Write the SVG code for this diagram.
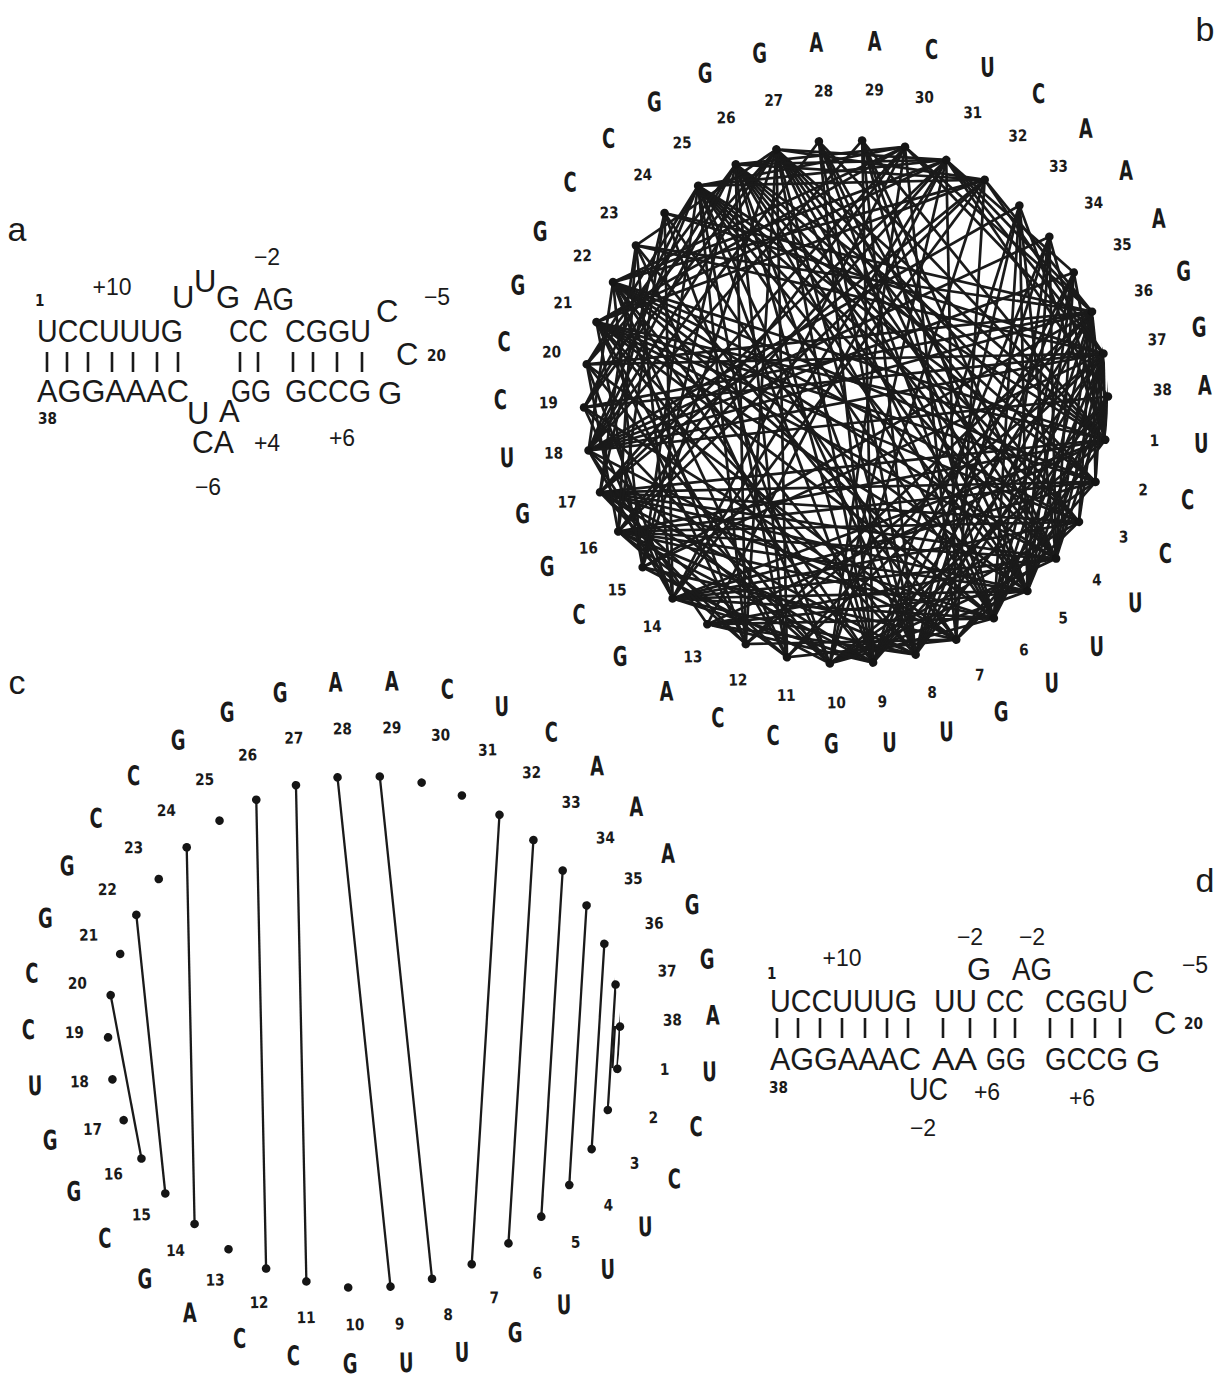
<svg xmlns="http://www.w3.org/2000/svg" width="1226" height="1383" viewBox="0 0 1226 1383">
<style>
.pl{font-family:"Liberation Sans",Arial,sans-serif;font-size:34px;fill:#1a1a1a;text-anchor:middle}
.sq{font-family:"Liberation Sans",Arial,sans-serif;font-size:31px;fill:#1a1a1a}
.an{font-family:"Liberation Sans",Arial,sans-serif;font-size:23px;fill:#1a1a1a;text-anchor:middle}
.n{font-family:"DejaVu Sans","Liberation Sans",sans-serif;font-weight:bold;font-size:16px;fill:#1a1a1a}
.l{font-family:"DejaVu Sans","Liberation Sans",sans-serif;font-weight:bold;font-size:27px;fill:#1a1a1a}
.bar{stroke:#1a1a1a;stroke-width:2.6;fill:none}
.chB{stroke:#1a1a1a;stroke-width:2.7;fill:none}
.chC{stroke:#1a1a1a;stroke-width:2.3;fill:none}
.dt{fill:#151515}
</style>
<defs>
<circle id="dot" r="4.3"/>
<clipPath id="clipB"><circle r="262"/></clipPath>
<clipPath id="clipC"><circle r="256"/></clipPath>
<line id="r4" x2="600" transform="rotate(108.947)"/>
<line id="r5" x2="600" transform="rotate(113.684)"/>
<line id="r6" x2="600" transform="rotate(118.421)"/>
<line id="r7" x2="600" transform="rotate(123.158)"/>
<line id="r8" x2="600" transform="rotate(127.895)"/>
<line id="r9" x2="600" transform="rotate(132.632)"/>
<line id="r10" x2="600" transform="rotate(137.368)"/>
<line id="r11" x2="600" transform="rotate(142.105)"/>
<line id="r12" x2="600" transform="rotate(146.842)"/>
<line id="r13" x2="600" transform="rotate(151.579)"/>
<line id="r14" x2="600" transform="rotate(156.316)"/>
<line id="r15" x2="600" transform="rotate(161.053)"/>
<line id="r16" x2="600" transform="rotate(165.789)"/>
<line id="r17" x2="600" transform="rotate(170.526)"/>
<line id="r18" x2="600" transform="rotate(175.263)"/>
<line id="r19" x2="600" transform="rotate(180)"/>
<line id="r20" x2="600" transform="rotate(184.737)"/>
<line id="r21" x2="600" transform="rotate(189.474)"/>
<line id="r22" x2="600" transform="rotate(194.211)"/>
<line id="r23" x2="600" transform="rotate(198.947)"/>
<line id="r24" x2="600" transform="rotate(203.684)"/>
<line id="r25" x2="600" transform="rotate(208.421)"/>
<line id="r26" x2="600" transform="rotate(213.158)"/>
<line id="r27" x2="600" transform="rotate(217.895)"/>
<line id="r28" x2="600" transform="rotate(222.632)"/>
<line id="r29" x2="600" transform="rotate(227.368)"/>
<line id="r30" x2="600" transform="rotate(232.105)"/>
<line id="r31" x2="600" transform="rotate(236.842)"/>
<line id="r32" x2="600" transform="rotate(241.579)"/>
<line id="r33" x2="600" transform="rotate(246.316)"/>
<line id="r34" x2="600" transform="rotate(251.053)"/>
<line id="r35" x2="600" transform="rotate(255.789)"/>
<line id="r36" x2="600" transform="rotate(260.526)"/>
<line id="r37" x2="600" transform="rotate(265.263)"/>
</defs>
<rect width="1226" height="1383" fill="#ffffff"/>

<!-- panel labels -->
<g id="panel-labels">
<text class="pl" x="17" y="241">a</text>
<text class="pl" x="1205" y="41">b</text>
<text class="pl" x="17" y="694">c</text>
<text class="pl" x="1205" y="892">d</text>
</g>

<!-- panel a -->
<g id="panel-a">
<text class="n" x="35" y="306" transform="translate(35 306) scale(.85 1) translate(-35 -306)">1</text>
<text class="an" x="112" y="295">+10</text>
<text class="sq" x="172" y="308">U</text>
<text class="sq" x="194" y="292">U</text>
<text class="sq" x="216" y="308">G</text>
<text class="an" x="267" y="265">−2</text>
<text class="sq" x="254" y="310" textLength="40" lengthAdjust="spacingAndGlyphs">AG</text>
<text class="an" x="437" y="305">−5</text>
<text class="sq" x="376" y="322">C</text>
<text class="sq" x="37" y="342" textLength="146" lengthAdjust="spacingAndGlyphs">UCCUUUG</text>
<text class="sq" x="229" y="342" textLength="39" lengthAdjust="spacingAndGlyphs">CC</text>
<text class="sq" x="285" y="342" textLength="86" lengthAdjust="spacingAndGlyphs">CGGU</text>
<path class="bar" d="M47 352v20M67 352v20M88 352v20M112 352v20M133 352v20M157 352v20M178 352v20M240 352v20M258 352v20M293 352v20M313 352v20M337 352v20M362 352v20"/>
<text class="sq" x="396" y="365">C</text>
<text class="n" x="427" y="361" transform="translate(427 361) scale(.85 1) translate(-427 -361)">20</text>
<text class="sq" x="37" y="402" textLength="152" lengthAdjust="spacingAndGlyphs">AGGAAAC</text>
<text class="sq" x="231" y="402" textLength="40" lengthAdjust="spacingAndGlyphs">GG</text>
<text class="sq" x="285" y="402" textLength="86" lengthAdjust="spacingAndGlyphs">GCCG</text>
<text class="sq" x="378" y="404">G</text>
<text class="n" x="38" y="424" transform="translate(38 424) scale(.85 1) translate(-38 -424)">38</text>
<text class="sq" x="187" y="424">U</text>
<text class="sq" x="219" y="422">A</text>
<text class="sq" x="192" y="453" textLength="42" lengthAdjust="spacingAndGlyphs">CA</text>
<text class="an" x="267" y="451">+4</text>
<text class="an" x="342" y="446">+6</text>
<text class="an" x="208" y="495">−6</text>
</g>

<!-- panel d -->
<g id="panel-d">
<text class="an" x="970" y="945">−2</text>
<text class="an" x="1032" y="945">−2</text>
<text class="an" x="842" y="966">+10</text>
<text class="n" x="767" y="979" transform="translate(767 979) scale(.85 1) translate(-767 -979)">1</text>
<text class="sq" x="967" y="980">G</text>
<text class="sq" x="1012" y="980" textLength="40" lengthAdjust="spacingAndGlyphs">AG</text>
<text class="sq" x="1132" y="993">C</text>
<text class="an" x="1195" y="973">−5</text>
<text class="sq" x="770" y="1012" textLength="147" lengthAdjust="spacingAndGlyphs">UCCUUUG</text>
<text class="sq" x="934" y="1012" textLength="43" lengthAdjust="spacingAndGlyphs">UU</text>
<text class="sq" x="986" y="1012" textLength="38" lengthAdjust="spacingAndGlyphs">CC</text>
<text class="sq" x="1045" y="1012" textLength="83" lengthAdjust="spacingAndGlyphs">CGGU</text>
<path class="bar" d="M777 1018v20M798 1018v20M820 1018v20M842 1018v20M865 1018v20M887 1018v20M908 1018v20M943 1018v20M970 1018v20M995 1018v20M1015 1018v20M1050 1018v20M1072 1018v20M1095 1018v20M1120 1018v20"/>
<text class="sq" x="1154" y="1034">C</text>
<text class="n" x="1184" y="1029" transform="translate(1184 1029) scale(.85 1) translate(-1184 -1029)">20</text>
<text class="sq" x="770" y="1070" textLength="151" lengthAdjust="spacingAndGlyphs">AGGAAAC</text>
<text class="sq" x="932" y="1070" textLength="45" lengthAdjust="spacingAndGlyphs">AA</text>
<text class="sq" x="986" y="1070" textLength="40" lengthAdjust="spacingAndGlyphs">GG</text>
<text class="sq" x="1045" y="1070" textLength="83" lengthAdjust="spacingAndGlyphs">GCCG</text>
<text class="sq" x="1136" y="1072">G</text>
<text class="n" x="769" y="1093" transform="translate(769 1093) scale(.85 1) translate(-769 -1093)">38</text>
<text class="sq" x="909" y="1100" textLength="39" lengthAdjust="spacingAndGlyphs">UC</text>
<text class="an" x="987" y="1100">+6</text>
<text class="an" x="1082" y="1106">+6</text>
<text class="an" x="923" y="1136">−2</text>
</g>

<!-- panel b -->
<g id="panel-b" transform="translate(846 402) rotate(-1.2)">
<g id="connectors-b" class="chB" clip-path="url(#clipB)">
<g transform="rotate(9.474) translate(262 0)"><use href="#r6"/><use href="#r9"/><use href="#r12"/><use href="#r13"/><use href="#r15"/><use href="#r16"/><use href="#r20"/><use href="#r21"/><use href="#r24"/><use href="#r25"/><use href="#r26"/><use href="#r27"/><use href="#r28"/><use href="#r32"/><use href="#r33"/><use href="#r34"/><use href="#r35"/><use href="#r36"/><use href="#r37"/></g>
<g transform="rotate(18.947) translate(262 0)"><use href="#r5"/><use href="#r8"/><use href="#r12"/><use href="#r14"/><use href="#r15"/><use href="#r19"/><use href="#r20"/><use href="#r23"/><use href="#r24"/><use href="#r25"/><use href="#r34"/><use href="#r35"/></g>
<g transform="rotate(28.421) translate(262 0)"><use href="#r4"/><use href="#r7"/><use href="#r11"/><use href="#r13"/><use href="#r14"/><use href="#r18"/><use href="#r19"/><use href="#r22"/><use href="#r23"/><use href="#r24"/><use href="#r33"/><use href="#r34"/></g>
<g transform="rotate(37.895) translate(262 0)"><use href="#r6"/><use href="#r9"/><use href="#r10"/><use href="#r12"/><use href="#r13"/><use href="#r17"/><use href="#r18"/><use href="#r21"/><use href="#r22"/><use href="#r23"/><use href="#r24"/><use href="#r25"/><use href="#r29"/><use href="#r30"/><use href="#r31"/><use href="#r32"/><use href="#r33"/><use href="#r34"/></g>
<g transform="rotate(47.368) translate(262 0)"><use href="#r5"/><use href="#r8"/><use href="#r9"/><use href="#r11"/><use href="#r12"/><use href="#r16"/><use href="#r17"/><use href="#r20"/><use href="#r21"/><use href="#r22"/><use href="#r23"/><use href="#r24"/><use href="#r28"/><use href="#r29"/><use href="#r30"/><use href="#r31"/><use href="#r32"/><use href="#r33"/></g>
<g transform="rotate(56.842) translate(262 0)"><use href="#r4"/><use href="#r7"/><use href="#r8"/><use href="#r10"/><use href="#r11"/><use href="#r15"/><use href="#r16"/><use href="#r19"/><use href="#r20"/><use href="#r21"/><use href="#r22"/><use href="#r23"/><use href="#r27"/><use href="#r28"/><use href="#r29"/><use href="#r30"/><use href="#r31"/><use href="#r32"/></g>
<g transform="rotate(66.316) translate(262 0)"><use href="#r4"/><use href="#r5"/><use href="#r8"/><use href="#r11"/><use href="#r12"/><use href="#r13"/><use href="#r16"/><use href="#r17"/><use href="#r23"/><use href="#r24"/><use href="#r25"/></g>
<g transform="rotate(75.789) translate(262 0)"><use href="#r5"/><use href="#r6"/><use href="#r8"/><use href="#r9"/><use href="#r13"/><use href="#r14"/><use href="#r17"/><use href="#r18"/><use href="#r19"/><use href="#r20"/><use href="#r21"/><use href="#r25"/><use href="#r26"/><use href="#r27"/><use href="#r28"/><use href="#r29"/><use href="#r30"/></g>
<g transform="rotate(85.263) translate(262 0)"><use href="#r4"/><use href="#r5"/><use href="#r7"/><use href="#r8"/><use href="#r12"/><use href="#r13"/><use href="#r16"/><use href="#r17"/><use href="#r18"/><use href="#r19"/><use href="#r20"/><use href="#r24"/><use href="#r25"/><use href="#r26"/><use href="#r27"/><use href="#r28"/><use href="#r29"/></g>
<g transform="rotate(94.737) translate(262 0)"><use href="#r5"/><use href="#r8"/><use href="#r9"/><use href="#r10"/><use href="#r13"/><use href="#r14"/><use href="#r20"/><use href="#r21"/><use href="#r22"/></g>
<g transform="rotate(104.211) translate(262 0)"><use href="#r5"/><use href="#r6"/><use href="#r10"/><use href="#r11"/><use href="#r14"/><use href="#r15"/><use href="#r16"/><use href="#r25"/><use href="#r26"/></g>
<g transform="rotate(113.684) translate(262 0)"><use href="#r4"/><use href="#r5"/><use href="#r9"/><use href="#r10"/><use href="#r13"/><use href="#r14"/><use href="#r15"/><use href="#r24"/><use href="#r25"/></g>
<g transform="rotate(123.158) translate(262 0)"><use href="#r5"/><use href="#r18"/></g>
<g transform="rotate(132.632) translate(262 0)"><use href="#r4"/><use href="#r5"/><use href="#r6"/><use href="#r9"/><use href="#r10"/><use href="#r16"/><use href="#r17"/><use href="#r18"/></g>
<g transform="rotate(142.105) translate(262 0)"><use href="#r6"/><use href="#r7"/><use href="#r10"/><use href="#r11"/><use href="#r12"/><use href="#r21"/><use href="#r22"/></g>
<g transform="rotate(151.579) translate(262 0)"><use href="#r4"/><use href="#r7"/><use href="#r8"/><use href="#r14"/><use href="#r15"/><use href="#r16"/></g>
<g transform="rotate(161.053) translate(262 0)"><use href="#r6"/><use href="#r7"/><use href="#r13"/><use href="#r14"/><use href="#r15"/></g>
<g transform="rotate(170.526) translate(262 0)"><use href="#r4"/><use href="#r7"/><use href="#r8"/><use href="#r9"/><use href="#r10"/><use href="#r11"/><use href="#r15"/><use href="#r16"/><use href="#r17"/><use href="#r18"/><use href="#r19"/><use href="#r20"/></g>
<g transform="rotate(180) translate(262 0)"><use href="#r6"/><use href="#r7"/><use href="#r8"/><use href="#r17"/><use href="#r18"/></g>
<g transform="rotate(189.474) translate(262 0)"><use href="#r5"/><use href="#r6"/><use href="#r7"/><use href="#r16"/><use href="#r17"/></g>
<g transform="rotate(198.947) translate(262 0)"><use href="#r9"/><use href="#r10"/><use href="#r11"/></g>
<g transform="rotate(208.421) translate(262 0)"><use href="#r8"/><use href="#r9"/><use href="#r10"/></g>
<g transform="rotate(217.895) translate(262 0)"><use href="#r4"/><use href="#r13"/><use href="#r14"/></g>
<g transform="rotate(227.368) translate(262 0)"><use href="#r12"/><use href="#r13"/></g>
<g transform="rotate(236.842) translate(262 0)"><use href="#r5"/><use href="#r6"/><use href="#r7"/></g>
<g transform="rotate(246.316) translate(262 0)"><use href="#r4"/><use href="#r5"/><use href="#r6"/></g>
<g transform="rotate(255.789) translate(262 0)"><use href="#r4"/><use href="#r5"/></g>
<g transform="rotate(284.211) translate(262 0)"><use href="#r6"/><use href="#r7"/></g>
<g transform="rotate(293.684) translate(262 0)"><use href="#r4"/><use href="#r5"/><use href="#r6"/><use href="#r7"/></g>
<g transform="rotate(303.158) translate(262 0)"><use href="#r4"/><use href="#r5"/></g>
</g>
<g id="b1" transform="rotate(9.474)"><use class="dt" href="#dot" x="262"/><text class="n" transform="translate(307 0) rotate(-9.474) scale(.85 1)">1</text><text class="l" transform="translate(352 0) rotate(-9.474) scale(.66 1)">U</text></g>
<g id="b2" transform="rotate(18.947)"><use class="dt" href="#dot" x="262"/><text class="n" transform="translate(307 0) rotate(-18.947) scale(.85 1)">2</text><text class="l" transform="translate(352 0) rotate(-18.947) scale(.66 1)">C</text></g>
<g id="b3" transform="rotate(28.421)"><use class="dt" href="#dot" x="262"/><text class="n" transform="translate(307 0) rotate(-28.421) scale(.85 1)">3</text><text class="l" transform="translate(352 0) rotate(-28.421) scale(.66 1)">C</text></g>
<g id="b4" transform="rotate(37.895)"><use class="dt" href="#dot" x="262"/><text class="n" transform="translate(307 0) rotate(-37.895) scale(.85 1)">4</text><text class="l" transform="translate(352 0) rotate(-37.895) scale(.66 1)">U</text></g>
<g id="b5" transform="rotate(47.368)"><use class="dt" href="#dot" x="262"/><text class="n" transform="translate(307 0) rotate(-47.368) scale(.85 1)">5</text><text class="l" transform="translate(352 0) rotate(-47.368) scale(.66 1)">U</text></g>
<g id="b6" transform="rotate(56.842)"><use class="dt" href="#dot" x="262"/><text class="n" transform="translate(307 0) rotate(-56.842) scale(.85 1)">6</text><text class="l" transform="translate(352 0) rotate(-56.842) scale(.66 1)">U</text></g>
<g id="b7" transform="rotate(66.316)"><use class="dt" href="#dot" x="262"/><text class="n" transform="translate(307 0) rotate(-66.316) scale(.85 1)">7</text><text class="l" transform="translate(352 0) rotate(-66.316) scale(.66 1)">G</text></g>
<g id="b8" transform="rotate(75.789)"><use class="dt" href="#dot" x="262"/><text class="n" transform="translate(307 0) rotate(-75.789) scale(.85 1)">8</text><text class="l" transform="translate(352 0) rotate(-75.789) scale(.66 1)">U</text></g>
<g id="b9" transform="rotate(85.263)"><use class="dt" href="#dot" x="262"/><text class="n" transform="translate(307 0) rotate(-85.263) scale(.85 1)">9</text><text class="l" transform="translate(352 0) rotate(-85.263) scale(.66 1)">U</text></g>
<g id="b10" transform="rotate(94.737)"><use class="dt" href="#dot" x="262"/><text class="n" transform="translate(307 0) rotate(-94.737) scale(.85 1)">10</text><text class="l" transform="translate(352 0) rotate(-94.737) scale(.66 1)">G</text></g>
<g id="b11" transform="rotate(104.211)"><use class="dt" href="#dot" x="262"/><text class="n" transform="translate(307 0) rotate(-104.211) scale(.85 1)">11</text><text class="l" transform="translate(352 0) rotate(-104.211) scale(.66 1)">C</text></g>
<g id="b12" transform="rotate(113.684)"><use class="dt" href="#dot" x="262"/><text class="n" transform="translate(307 0) rotate(-113.684) scale(.85 1)">12</text><text class="l" transform="translate(352 0) rotate(-113.684) scale(.66 1)">C</text></g>
<g id="b13" transform="rotate(123.158)"><use class="dt" href="#dot" x="262"/><text class="n" transform="translate(307 0) rotate(-123.158) scale(.85 1)">13</text><text class="l" transform="translate(352 0) rotate(-123.158) scale(.66 1)">A</text></g>
<g id="b14" transform="rotate(132.632)"><use class="dt" href="#dot" x="262"/><text class="n" transform="translate(307 0) rotate(-132.632) scale(.85 1)">14</text><text class="l" transform="translate(352 0) rotate(-132.632) scale(.66 1)">G</text></g>
<g id="b15" transform="rotate(142.105)"><use class="dt" href="#dot" x="262"/><text class="n" transform="translate(307 0) rotate(-142.105) scale(.85 1)">15</text><text class="l" transform="translate(352 0) rotate(-142.105) scale(.66 1)">C</text></g>
<g id="b16" transform="rotate(151.579)"><use class="dt" href="#dot" x="262"/><text class="n" transform="translate(307 0) rotate(-151.579) scale(.85 1)">16</text><text class="l" transform="translate(352 0) rotate(-151.579) scale(.66 1)">G</text></g>
<g id="b17" transform="rotate(161.053)"><use class="dt" href="#dot" x="262"/><text class="n" transform="translate(307 0) rotate(-161.053) scale(.85 1)">17</text><text class="l" transform="translate(352 0) rotate(-161.053) scale(.66 1)">G</text></g>
<g id="b18" transform="rotate(170.526)"><use class="dt" href="#dot" x="262"/><text class="n" transform="translate(307 0) rotate(-170.526) scale(.85 1)">18</text><text class="l" transform="translate(352 0) rotate(-170.526) scale(.66 1)">U</text></g>
<g id="b19" transform="rotate(180)"><use class="dt" href="#dot" x="262"/><text class="n" transform="translate(307 0) rotate(-180) scale(.85 1)">19</text><text class="l" transform="translate(352 0) rotate(-180) scale(.66 1)">C</text></g>
<g id="b20" transform="rotate(189.474)"><use class="dt" href="#dot" x="262"/><text class="n" transform="translate(307 0) rotate(-189.474) scale(.85 1)">20</text><text class="l" transform="translate(352 0) rotate(-189.474) scale(.66 1)">C</text></g>
<g id="b21" transform="rotate(198.947)"><use class="dt" href="#dot" x="262"/><text class="n" transform="translate(307 0) rotate(-198.947) scale(.85 1)">21</text><text class="l" transform="translate(352 0) rotate(-198.947) scale(.66 1)">G</text></g>
<g id="b22" transform="rotate(208.421)"><use class="dt" href="#dot" x="262"/><text class="n" transform="translate(307 0) rotate(-208.421) scale(.85 1)">22</text><text class="l" transform="translate(352 0) rotate(-208.421) scale(.66 1)">G</text></g>
<g id="b23" transform="rotate(217.895)"><use class="dt" href="#dot" x="262"/><text class="n" transform="translate(307 0) rotate(-217.895) scale(.85 1)">23</text><text class="l" transform="translate(352 0) rotate(-217.895) scale(.66 1)">C</text></g>
<g id="b24" transform="rotate(227.368)"><use class="dt" href="#dot" x="262"/><text class="n" transform="translate(307 0) rotate(-227.368) scale(.85 1)">24</text><text class="l" transform="translate(352 0) rotate(-227.368) scale(.66 1)">C</text></g>
<g id="b25" transform="rotate(236.842)"><use class="dt" href="#dot" x="262"/><text class="n" transform="translate(307 0) rotate(-236.842) scale(.85 1)">25</text><text class="l" transform="translate(352 0) rotate(-236.842) scale(.66 1)">G</text></g>
<g id="b26" transform="rotate(246.316)"><use class="dt" href="#dot" x="262"/><text class="n" transform="translate(307 0) rotate(-246.316) scale(.85 1)">26</text><text class="l" transform="translate(352 0) rotate(-246.316) scale(.66 1)">G</text></g>
<g id="b27" transform="rotate(255.789)"><use class="dt" href="#dot" x="262"/><text class="n" transform="translate(307 0) rotate(-255.789) scale(.85 1)">27</text><text class="l" transform="translate(352 0) rotate(-255.789) scale(.66 1)">G</text></g>
<g id="b28" transform="rotate(265.263)"><use class="dt" href="#dot" x="262"/><text class="n" transform="translate(307 0) rotate(-265.263) scale(.85 1)">28</text><text class="l" transform="translate(352 0) rotate(-265.263) scale(.66 1)">A</text></g>
<g id="b29" transform="rotate(274.737)"><use class="dt" href="#dot" x="262"/><text class="n" transform="translate(307 0) rotate(-274.737) scale(.85 1)">29</text><text class="l" transform="translate(352 0) rotate(-274.737) scale(.66 1)">A</text></g>
<g id="b30" transform="rotate(284.211)"><use class="dt" href="#dot" x="262"/><text class="n" transform="translate(307 0) rotate(-284.211) scale(.85 1)">30</text><text class="l" transform="translate(352 0) rotate(-284.211) scale(.66 1)">C</text></g>
<g id="b31" transform="rotate(293.684)"><use class="dt" href="#dot" x="262"/><text class="n" transform="translate(307 0) rotate(-293.684) scale(.85 1)">31</text><text class="l" transform="translate(352 0) rotate(-293.684) scale(.66 1)">U</text></g>
<g id="b32" transform="rotate(303.158)"><use class="dt" href="#dot" x="262"/><text class="n" transform="translate(307 0) rotate(-303.158) scale(.85 1)">32</text><text class="l" transform="translate(352 0) rotate(-303.158) scale(.66 1)">C</text></g>
<g id="b33" transform="rotate(312.632)"><use class="dt" href="#dot" x="262"/><text class="n" transform="translate(307 0) rotate(-312.632) scale(.85 1)">33</text><text class="l" transform="translate(352 0) rotate(-312.632) scale(.66 1)">A</text></g>
<g id="b34" transform="rotate(322.105)"><use class="dt" href="#dot" x="262"/><text class="n" transform="translate(307 0) rotate(-322.105) scale(.85 1)">34</text><text class="l" transform="translate(352 0) rotate(-322.105) scale(.66 1)">A</text></g>
<g id="b35" transform="rotate(331.579)"><use class="dt" href="#dot" x="262"/><text class="n" transform="translate(307 0) rotate(-331.579) scale(.85 1)">35</text><text class="l" transform="translate(352 0) rotate(-331.579) scale(.66 1)">A</text></g>
<g id="b36" transform="rotate(341.053)"><use class="dt" href="#dot" x="262"/><text class="n" transform="translate(307 0) rotate(-341.053) scale(.85 1)">36</text><text class="l" transform="translate(352 0) rotate(-341.053) scale(.66 1)">G</text></g>
<g id="b37" transform="rotate(350.526)"><use class="dt" href="#dot" x="262"/><text class="n" transform="translate(307 0) rotate(-350.526) scale(.85 1)">37</text><text class="l" transform="translate(352 0) rotate(-350.526) scale(.66 1)">G</text></g>
<g id="b38" transform="rotate(0)"><use class="dt" href="#dot" x="262"/><text class="n" transform="translate(307 0) scale(.85 1)">38</text><text class="l" transform="translate(352 0) scale(.66 1)">A</text></g>
</g>

<!-- panel c -->
<g id="panel-c" transform="translate(364 1032) rotate(-1.2)">
<g id="connectors-c" class="chC" clip-path="url(#clipC)">
<g transform="rotate(9.474) translate(256 0)"><use href="#r37"/><line x1="-5" y1="0" x2="-8.5" y2="-42.1"/></g>
<g transform="rotate(18.947) translate(256 0)"><use href="#r35"/></g>
<g transform="rotate(28.421) translate(256 0)"><use href="#r33"/></g>
<g transform="rotate(37.895) translate(256 0)"><use href="#r31"/></g>
<g transform="rotate(47.368) translate(256 0)"><use href="#r29"/></g>
<g transform="rotate(56.842) translate(256 0)"><use href="#r27"/></g>
<g transform="rotate(66.316) translate(256 0)"><use href="#r25"/></g>
<g transform="rotate(75.789) translate(256 0)"><use href="#r21"/></g>
<g transform="rotate(85.263) translate(256 0)"><use href="#r19"/></g>
<g transform="rotate(104.211) translate(256 0)"><use href="#r16"/></g>
<g transform="rotate(113.684) translate(256 0)"><use href="#r14"/></g>
<g transform="rotate(132.632) translate(256 0)"><use href="#r10"/></g>
<g transform="rotate(142.105) translate(256 0)"><use href="#r7"/></g>
<g transform="rotate(151.579) translate(256 0)"><use href="#r4"/></g>
</g>
<g id="c1" transform="rotate(9.474)"><use class="dt" href="#dot" x="256"/><text class="n" transform="translate(299 0) rotate(-9.474) scale(.85 1)">1</text><text class="l" transform="translate(342 0) rotate(-9.474) scale(.66 1)">U</text></g>
<g id="c2" transform="rotate(18.947)"><use class="dt" href="#dot" x="256"/><text class="n" transform="translate(299 0) rotate(-18.947) scale(.85 1)">2</text><text class="l" transform="translate(342 0) rotate(-18.947) scale(.66 1)">C</text></g>
<g id="c3" transform="rotate(28.421)"><use class="dt" href="#dot" x="256"/><text class="n" transform="translate(299 0) rotate(-28.421) scale(.85 1)">3</text><text class="l" transform="translate(342 0) rotate(-28.421) scale(.66 1)">C</text></g>
<g id="c4" transform="rotate(37.895)"><use class="dt" href="#dot" x="256"/><text class="n" transform="translate(299 0) rotate(-37.895) scale(.85 1)">4</text><text class="l" transform="translate(342 0) rotate(-37.895) scale(.66 1)">U</text></g>
<g id="c5" transform="rotate(47.368)"><use class="dt" href="#dot" x="256"/><text class="n" transform="translate(299 0) rotate(-47.368) scale(.85 1)">5</text><text class="l" transform="translate(342 0) rotate(-47.368) scale(.66 1)">U</text></g>
<g id="c6" transform="rotate(56.842)"><use class="dt" href="#dot" x="256"/><text class="n" transform="translate(299 0) rotate(-56.842) scale(.85 1)">6</text><text class="l" transform="translate(342 0) rotate(-56.842) scale(.66 1)">U</text></g>
<g id="c7" transform="rotate(66.316)"><use class="dt" href="#dot" x="256"/><text class="n" transform="translate(299 0) rotate(-66.316) scale(.85 1)">7</text><text class="l" transform="translate(342 0) rotate(-66.316) scale(.66 1)">G</text></g>
<g id="c8" transform="rotate(75.789)"><use class="dt" href="#dot" x="256"/><text class="n" transform="translate(299 0) rotate(-75.789) scale(.85 1)">8</text><text class="l" transform="translate(342 0) rotate(-75.789) scale(.66 1)">U</text></g>
<g id="c9" transform="rotate(85.263)"><use class="dt" href="#dot" x="256"/><text class="n" transform="translate(299 0) rotate(-85.263) scale(.85 1)">9</text><text class="l" transform="translate(342 0) rotate(-85.263) scale(.66 1)">U</text></g>
<g id="c10" transform="rotate(94.737)"><use class="dt" href="#dot" x="256"/><text class="n" transform="translate(299 0) rotate(-94.737) scale(.85 1)">10</text><text class="l" transform="translate(342 0) rotate(-94.737) scale(.66 1)">G</text></g>
<g id="c11" transform="rotate(104.211)"><use class="dt" href="#dot" x="256"/><text class="n" transform="translate(299 0) rotate(-104.211) scale(.85 1)">11</text><text class="l" transform="translate(342 0) rotate(-104.211) scale(.66 1)">C</text></g>
<g id="c12" transform="rotate(113.684)"><use class="dt" href="#dot" x="256"/><text class="n" transform="translate(299 0) rotate(-113.684) scale(.85 1)">12</text><text class="l" transform="translate(342 0) rotate(-113.684) scale(.66 1)">C</text></g>
<g id="c13" transform="rotate(123.158)"><use class="dt" href="#dot" x="256"/><text class="n" transform="translate(299 0) rotate(-123.158) scale(.85 1)">13</text><text class="l" transform="translate(342 0) rotate(-123.158) scale(.66 1)">A</text></g>
<g id="c14" transform="rotate(132.632)"><use class="dt" href="#dot" x="256"/><text class="n" transform="translate(299 0) rotate(-132.632) scale(.85 1)">14</text><text class="l" transform="translate(342 0) rotate(-132.632) scale(.66 1)">G</text></g>
<g id="c15" transform="rotate(142.105)"><use class="dt" href="#dot" x="256"/><text class="n" transform="translate(299 0) rotate(-142.105) scale(.85 1)">15</text><text class="l" transform="translate(342 0) rotate(-142.105) scale(.66 1)">C</text></g>
<g id="c16" transform="rotate(151.579)"><use class="dt" href="#dot" x="256"/><text class="n" transform="translate(299 0) rotate(-151.579) scale(.85 1)">16</text><text class="l" transform="translate(342 0) rotate(-151.579) scale(.66 1)">G</text></g>
<g id="c17" transform="rotate(161.053)"><use class="dt" href="#dot" x="256"/><text class="n" transform="translate(299 0) rotate(-161.053) scale(.85 1)">17</text><text class="l" transform="translate(342 0) rotate(-161.053) scale(.66 1)">G</text></g>
<g id="c18" transform="rotate(170.526)"><use class="dt" href="#dot" x="256"/><text class="n" transform="translate(299 0) rotate(-170.526) scale(.85 1)">18</text><text class="l" transform="translate(342 0) rotate(-170.526) scale(.66 1)">U</text></g>
<g id="c19" transform="rotate(180)"><use class="dt" href="#dot" x="256"/><text class="n" transform="translate(299 0) rotate(-180) scale(.85 1)">19</text><text class="l" transform="translate(342 0) rotate(-180) scale(.66 1)">C</text></g>
<g id="c20" transform="rotate(189.474)"><use class="dt" href="#dot" x="256"/><text class="n" transform="translate(299 0) rotate(-189.474) scale(.85 1)">20</text><text class="l" transform="translate(342 0) rotate(-189.474) scale(.66 1)">C</text></g>
<g id="c21" transform="rotate(198.947)"><use class="dt" href="#dot" x="256"/><text class="n" transform="translate(299 0) rotate(-198.947) scale(.85 1)">21</text><text class="l" transform="translate(342 0) rotate(-198.947) scale(.66 1)">G</text></g>
<g id="c22" transform="rotate(208.421)"><use class="dt" href="#dot" x="256"/><text class="n" transform="translate(299 0) rotate(-208.421) scale(.85 1)">22</text><text class="l" transform="translate(342 0) rotate(-208.421) scale(.66 1)">G</text></g>
<g id="c23" transform="rotate(217.895)"><use class="dt" href="#dot" x="256"/><text class="n" transform="translate(299 0) rotate(-217.895) scale(.85 1)">23</text><text class="l" transform="translate(342 0) rotate(-217.895) scale(.66 1)">C</text></g>
<g id="c24" transform="rotate(227.368)"><use class="dt" href="#dot" x="256"/><text class="n" transform="translate(299 0) rotate(-227.368) scale(.85 1)">24</text><text class="l" transform="translate(342 0) rotate(-227.368) scale(.66 1)">C</text></g>
<g id="c25" transform="rotate(236.842)"><use class="dt" href="#dot" x="256"/><text class="n" transform="translate(299 0) rotate(-236.842) scale(.85 1)">25</text><text class="l" transform="translate(342 0) rotate(-236.842) scale(.66 1)">G</text></g>
<g id="c26" transform="rotate(246.316)"><use class="dt" href="#dot" x="256"/><text class="n" transform="translate(299 0) rotate(-246.316) scale(.85 1)">26</text><text class="l" transform="translate(342 0) rotate(-246.316) scale(.66 1)">G</text></g>
<g id="c27" transform="rotate(255.789)"><use class="dt" href="#dot" x="256"/><text class="n" transform="translate(299 0) rotate(-255.789) scale(.85 1)">27</text><text class="l" transform="translate(342 0) rotate(-255.789) scale(.66 1)">G</text></g>
<g id="c28" transform="rotate(265.263)"><use class="dt" href="#dot" x="256"/><text class="n" transform="translate(299 0) rotate(-265.263) scale(.85 1)">28</text><text class="l" transform="translate(342 0) rotate(-265.263) scale(.66 1)">A</text></g>
<g id="c29" transform="rotate(274.737)"><use class="dt" href="#dot" x="256"/><text class="n" transform="translate(299 0) rotate(-274.737) scale(.85 1)">29</text><text class="l" transform="translate(342 0) rotate(-274.737) scale(.66 1)">A</text></g>
<g id="c30" transform="rotate(284.211)"><use class="dt" href="#dot" x="256"/><text class="n" transform="translate(299 0) rotate(-284.211) scale(.85 1)">30</text><text class="l" transform="translate(342 0) rotate(-284.211) scale(.66 1)">C</text></g>
<g id="c31" transform="rotate(293.684)"><use class="dt" href="#dot" x="256"/><text class="n" transform="translate(299 0) rotate(-293.684) scale(.85 1)">31</text><text class="l" transform="translate(342 0) rotate(-293.684) scale(.66 1)">U</text></g>
<g id="c32" transform="rotate(303.158)"><use class="dt" href="#dot" x="256"/><text class="n" transform="translate(299 0) rotate(-303.158) scale(.85 1)">32</text><text class="l" transform="translate(342 0) rotate(-303.158) scale(.66 1)">C</text></g>
<g id="c33" transform="rotate(312.632)"><use class="dt" href="#dot" x="256"/><text class="n" transform="translate(299 0) rotate(-312.632) scale(.85 1)">33</text><text class="l" transform="translate(342 0) rotate(-312.632) scale(.66 1)">A</text></g>
<g id="c34" transform="rotate(322.105)"><use class="dt" href="#dot" x="256"/><text class="n" transform="translate(299 0) rotate(-322.105) scale(.85 1)">34</text><text class="l" transform="translate(342 0) rotate(-322.105) scale(.66 1)">A</text></g>
<g id="c35" transform="rotate(331.579)"><use class="dt" href="#dot" x="256"/><text class="n" transform="translate(299 0) rotate(-331.579) scale(.85 1)">35</text><text class="l" transform="translate(342 0) rotate(-331.579) scale(.66 1)">A</text></g>
<g id="c36" transform="rotate(341.053)"><use class="dt" href="#dot" x="256"/><text class="n" transform="translate(299 0) rotate(-341.053) scale(.85 1)">36</text><text class="l" transform="translate(342 0) rotate(-341.053) scale(.66 1)">G</text></g>
<g id="c37" transform="rotate(350.526)"><use class="dt" href="#dot" x="256"/><text class="n" transform="translate(299 0) rotate(-350.526) scale(.85 1)">37</text><text class="l" transform="translate(342 0) rotate(-350.526) scale(.66 1)">G</text></g>
<g id="c38" transform="rotate(0)"><use class="dt" href="#dot" x="256"/><text class="n" transform="translate(299 0) scale(.85 1)">38</text><text class="l" transform="translate(342 0) scale(.66 1)">A</text></g>
</g>
</svg>
